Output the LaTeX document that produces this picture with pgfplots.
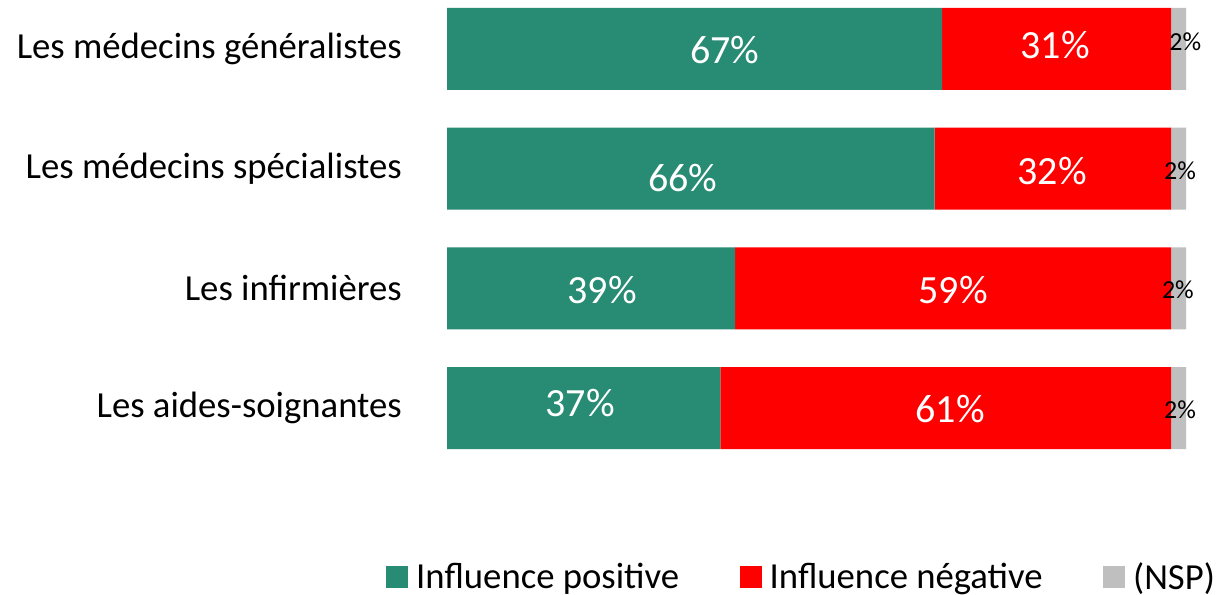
\documentclass[border=0pt]{standalone}
\usepackage{pgfplots}
\pgfplotsset{compat=1.18}
\usepackage{fontspec}
\setmainfont{Carlito}
\definecolor{cgreen}{RGB}{40,139,116}
\definecolor{cred}{RGB}{255,0,0}
\definecolor{cgray}{RGB}{191,191,191}
\tikzset{wl/.style={text=white, font=\fontsize{40}{44}\selectfont},
         bl/.style={text=black, font=\fontsize{26}{28}\selectfont}}
\begin{document}
\begin{tikzpicture}
\path[use as bounding box] (0pt,0pt) rectangle (1217pt,-594pt);
\begin{axis}[
  at={(447pt,-450pt)}, anchor=south west,
  scale only axis, width=739pt, height=443pt,
  xbar stacked, bar width=82pt,
  xmin=0, xmax=100, ymin=-0.35, ymax=3.35, y dir=reverse,
  axis x line=none, axis y line=left, y axis line style={draw=none},
  ytick={0,1,2,3},
  yticklabels={Les médecins généralistes, Les médecins spécialistes, Les infirmières, Les aides-soignantes\hspace{9pt}},
  major tick length=0pt,
  yticklabel style={font=\fontsize{36.7}{40}\selectfont, inner sep=0pt, xshift=-45pt},
  legend columns=3,
  legend style={at={(-0.0825,-0.2867)}, anchor=west, draw=none, fill=none,
    font=\fontsize{36.7}{40}\selectfont, inner sep=0pt,
    nodes={inner xsep=0pt, inner ysep=0pt},
    /tikz/every odd column/.append style={column sep=8pt},
    /tikz/every even column/.append style={column sep=60.5pt}},
  legend image code/.code={\fill[#1] (0pt,-11pt) rectangle (22pt,11pt);},
  clip=false,
]
\addplot[fill=cgreen, draw=none] coordinates {(67,0) (66,1) (39,2) (37,3)};
\addplot[fill=cred, draw=none] coordinates {(31,0) (32,1) (59,2) (61,3)};
\addplot[fill=cgray, draw=none] coordinates {(2,0) (2,1) (2,2) (2,3)};
\legend{Influence positive, Influence négative, (NSP)}
\coordinate (a1) at (axis cs:37.6,0.01);
\coordinate (a2) at (axis cs:82.3,-0.03);
\coordinate (a3) at (axis cs:99.9,-0.06);
\coordinate (b1) at (axis cs:31.9,1.08);
\coordinate (b2) at (axis cs:81.9,1.02);
\coordinate (b3) at (axis cs:99.2,1.02);
\coordinate (c1) at (axis cs:21.0,2.01);
\coordinate (c2) at (axis cs:68.5,2.01);
\coordinate (c3) at (axis cs:98.9,2.01);
\coordinate (d1) at (axis cs:18.0,2.96);
\coordinate (d2) at (axis cs:68.1,3.01);
\coordinate (d3) at (axis cs:99.2,3.01);
\end{axis}
\node[wl] at (a1) {67\%};
\node[wl] at (a2) {31\%};
\node[bl] at (a3) {2\%};
\node[wl] at (b1) {66\%};
\node[wl] at (b2) {32\%};
\node[bl] at (b3) {2\%};
\node[wl] at (c1) {39\%};
\node[wl] at (c2) {59\%};
\node[bl] at (c3) {2\%};
\node[wl] at (d1) {37\%};
\node[wl] at (d2) {61\%};
\node[bl] at (d3) {2\%};
\end{tikzpicture}
\end{document}
